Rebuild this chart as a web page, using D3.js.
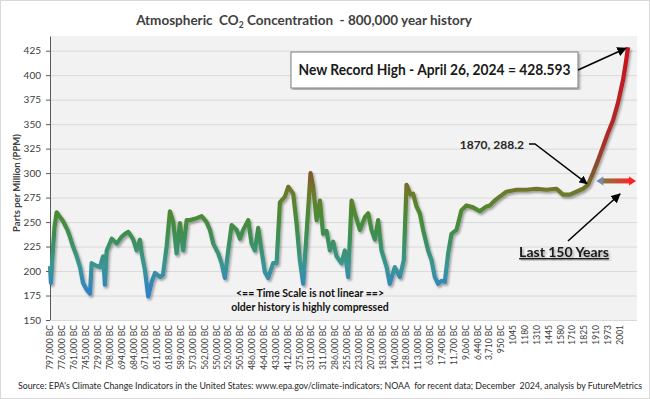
<!DOCTYPE html>
<html>
<head>
<meta charset="utf-8">
<script src="https://cdn.jsdelivr.net/npm/d3@7"></script>
<style>
  body { margin: 0; background: #fff; }
  svg { display: block; font-family: Lato, "Open Sans", sans-serif; }
</style>
</head>
<body>
<svg width="650" height="399"></svg>
<script>
// category labels under the chart (the time scale is not linear)
const yearLabels = ["797,000 BC", "776,000 BC", "761,000 BC", "745,000 BC", "729,000 BC", "708,000 BC",
  "694,000 BC", "684,000 BC", "671,000 BC", "651,000 BC", "618,000 BC", "589,000 BC", "573,000 BC",
  "562,000 BC", "550,000 BC", "526,000 BC", "505,000 BC", "486,000 BC", "464,000 BC", "433,000 BC",
  "412,000 BC", "375,000 BC", "331,000 BC", "311,000 BC", "286,000 BC", "255,000 BC", "233,000 BC",
  "207,000 BC", "183,000 BC", "140,000 BC", "128,000 BC", "113,000 BC", "63,000 BC", "17,400 BC",
  "11,700 BC", "9,060 BC", "6,440 BC", "3,710 BC", "950 BC", "1045", "1180", "1310", "1445", "1580",
  "1710", "1825", "1910", "1973", "2001"];

const yTicks = [150, 175, 200, 225, 250, 275, 300, 325, 350, 375, 400, 425];

// [position along the label axis, ppm]
const co2 = [
  [0, 205], [0.08, 188], [0.21, 215], [0.38, 245], [0.56, 260], [0.84, 255], [1.05, 252], [1.26, 247], [1.47, 242], [1.68, 235],
  [1.94, 225], [2.25, 215], [2.53, 204], [2.78, 188], [3.09, 181], [3.37, 177], [3.51, 208], [3.79, 206], [4.21, 204], [4.47, 215],
  [4.63, 186], [4.78, 221], [5.20, 233], [5.62, 228], [6.04, 235], [6.32, 238], [6.60, 240], [7.02, 232], [7.30, 221], [7.58, 232],
  [7.73, 218], [8.00, 201], [8.28, 174], [8.57, 189], [8.85, 198], [9.27, 194], [9.52, 196], [9.83, 225], [10.11, 261], [10.39, 250],
  [10.67, 218], [10.95, 249], [11.23, 221], [11.52, 252], [11.79, 252], [12.36, 254], [12.78, 256], [13.20, 250], [13.48, 242], [13.76, 228],
  [14.18, 218], [14.46, 208], [14.74, 193], [15.02, 221], [15.31, 247], [15.73, 242], [16.01, 233], [16.28, 242], [16.71, 252], [16.99, 228],
  [17.27, 221], [17.55, 244], [17.83, 221], [18.11, 199], [18.39, 193], [18.81, 208], [19.10, 208], [19.38, 270], [19.80, 276], [20.08, 286],
  [20.50, 279], [20.78, 249], [21.06, 211], [21.34, 187], [21.63, 239], [21.96, 300], [22.18, 286], [22.47, 252], [22.75, 272], [23.02, 238],
  [23.31, 241], [23.59, 221], [23.87, 230], [24.15, 215], [24.57, 208], [24.85, 221], [25.13, 194], [25.42, 272], [25.69, 259], [26.12, 242],
  [26.54, 255], [26.82, 259], [27.10, 242], [27.38, 232], [27.66, 252], [27.94, 221], [28.37, 204], [28.64, 187], [29.06, 204], [29.49, 194],
  [29.82, 211], [30.05, 288], [30.39, 278], [30.61, 279], [30.89, 266], [31.17, 259], [31.45, 242], [31.87, 221], [32.16, 211], [32.43, 194],
  [32.71, 187], [33.00, 190], [33.28, 189], [33.56, 218], [33.84, 238], [34.26, 242], [34.68, 262], [35.10, 267], [35.66, 265], [36.23, 261],
  [36.79, 266], [37.07, 267], [37.49, 272], [37.91, 276], [38.47, 281], [39.32, 283], [40.16, 283], [41.00, 284], [41.84, 283], [42.69, 284],
  [43.24, 278], [43.81, 278], [44.37, 281], [44.93, 284], [45.35, 288.2], [45.77, 300], [46.19, 313], [46.61, 327], [47.03, 341], [47.46, 354],
  [47.88, 372], [48.30, 395], [48.53, 412], [48.72, 428.6]
];

// colour of the curve by concentration
const colourStops = [[175, "#2f80c8"], [205, "#3a9595"], [235, "#3e8f55"], [258, "#4b8a32"], [280, "#6b7b2c"], [298, "#80592a"], [330, "#a8302a"], [420, "#c8141c"]];

const svg = d3.select('svg');
const plot = { left: 50, right: 637, top: 36, bottom: 320 };

const x = d3.scaleLinear().domain([0, 48.72]).range([50, 628]);
const y = d3.scaleLinear().domain([150, 440]).range([plot.bottom, plot.top]);

const defs = svg.append('defs');

const grad = defs.append('linearGradient')
  .attr('id', 'co2grad')
  .attr('gradientUnits', 'userSpaceOnUse')
  .attr('x1', 0).attr('x2', 0)
  .attr('y1', y(colourStops[0][0]))
  .attr('y2', y(colourStops[colourStops.length - 1][0]));
const span = colourStops[colourStops.length - 1][0] - colourStops[0][0];
colourStops.forEach(s => {
  grad.append('stop')
    .attr('offset', (s[0] - colourStops[0][0]) / span)
    .attr('stop-color', s[1]);
});

const arrowGrad = defs.append('linearGradient').attr('id', 'arrowgrad');
arrowGrad.append('stop').attr('offset', 0).attr('stop-color', '#7d7a38');
arrowGrad.append('stop').attr('offset', 1).attr('stop-color', '#ff2626');

defs.append('filter').attr('id', 'shadow')
  .attr('x', '-5%').attr('y', '-5%').attr('width', '110%').attr('height', '110%')
  .append('feDropShadow')
  .attr('dx', 1.5).attr('dy', 2).attr('stdDeviation', 1.2)
  .attr('flood-color', '#000').attr('flood-opacity', 0.35);

defs.append('marker')
  .attr('id', 'head')
  .attr('viewBox', '0 0 10 10')
  .attr('refX', 9).attr('refY', 5)
  .attr('markerWidth', 6).attr('markerHeight', 6)
  .attr('orient', 'auto')
  .append('path')
  .attr('d', 'M0,0L10,5L0,10z')
  .attr('fill', '#000');

// outer frame
svg.append('rect')
  .attr('x', 0.5).attr('y', 0.5).attr('width', 649).attr('height', 398)
  .attr('fill', '#fff').attr('stroke', '#d9d9d9');

// plot background + grid
svg.append('rect')
  .attr('x', plot.left).attr('y', plot.top)
  .attr('width', plot.right - plot.left).attr('height', plot.bottom - plot.top)
  .attr('fill', '#f2f2f2');

svg.append('g')
  .selectAll('line')
  .data(yTicks)
  .join('line')
  .attr('x1', plot.left).attr('x2', plot.right)
  .attr('y1', d => y(d) + 0.5).attr('y2', d => y(d) + 0.5)
  .attr('stroke', '#d9d9d9');

// y axis
const yAxis = svg.append('g')
  .attr('transform', `translate(${plot.left},0)`)
  .call(d3.axisLeft(y).tickValues(yTicks).tickSize(4).tickSizeOuter(0).tickPadding(5));
yAxis.select('.domain').attr('stroke', '#595959');
yAxis.selectAll('.tick line').attr('stroke', '#595959');
yAxis.selectAll('text').attr('fill', '#404040').style('font-size', '10px').style('font-family', 'Lato, sans-serif');

// x axis with rotated category labels
const xAxis = svg.append('g')
  .attr('transform', `translate(0,${plot.bottom})`)
  .call(d3.axisBottom(x).tickValues(d3.range(yearLabels.length)).tickFormat(i => yearLabels[i]).tickSize(0).tickSizeOuter(0));
xAxis.select('.domain').attr('stroke', '#d9d9d9').attr('d', `M${plot.left},0.5H${plot.right}`);
xAxis.selectAll('text')
  .attr('transform', 'rotate(-90)')
  .attr('text-anchor', 'end')
  .attr('x', -5).attr('y', 0).attr('dy', '0.35em')
  .attr('fill', '#404040')
  .style('font-size', '8.5px')
  .style('font-family', 'Lato, sans-serif');

// the CO2 curve
const line = d3.line().x(d => x(d[0])).y(d => y(d[1]));
svg.append('path')
  .datum(co2)
  .attr('d', line)
  .attr('fill', 'none')
  .attr('stroke', 'url(#co2grad)')
  .attr('stroke-width', 4.2)
  .attr('stroke-linejoin', 'round')
  .attr('filter', 'url(#shadow)');

// title
const title = svg.append('text')
  .attr('x', 304).attr('y', 25)
  .attr('text-anchor', 'middle')
  .attr('fill', '#404040')
  .style('font-size', '13.5px').style('font-weight', 700)
  .style('white-space', 'pre');
title.append('tspan').text('Atmospheric  CO');
title.append('tspan').attr('dy', 3).style('font-size', '8.5px').text('2');
title.append('tspan').attr('dy', -3).text(' Concentration  - 800,000 year history');

// y axis title
svg.append('text')
  .attr('transform', 'translate(20,183) rotate(-90)')
  .attr('text-anchor', 'middle')
  .attr('fill', '#404040')
  .style('font-size', '9.5px').style('font-weight', 700)
  .text('Parts per Million (PPM)');

// record high box
svg.append('rect')
  .attr('x', 291).attr('y', 52).attr('width', 287).attr('height', 36)
  .attr('fill', '#fff').attr('stroke', '#7f7f7f')
  .attr('filter', 'url(#shadow)');
svg.append('text')
  .attr('x', 434.5).attr('y', 75)
  .attr('text-anchor', 'middle')
  .attr('fill', '#1a1a1a')
  .attr('textLength', 272)
  .attr('lengthAdjust', 'spacingAndGlyphs')
  .style('font-size', '14.5px').style('font-weight', 700)
  .text('New Record High - April 26, 2024 = 428.593');
const last = co2[co2.length - 1];
svg.append('line')
  .attr('x1', 578).attr('y1', 70)
  .attr('x2', x(last[0]) - 2).attr('y2', y(last[1]) + 1)
  .attr('stroke', '#000').attr('stroke-width', 1.6)
  .attr('marker-end', 'url(#head)');

// 1870 marker
const p1870 = co2.find(d => d[1] === 288.2);
svg.append('text')
  .attr('x', 524).attr('y', 149)
  .attr('text-anchor', 'end')
  .attr('fill', '#262626')
  .style('font-size', '12px').style('font-weight', 700)
  .text('1870, 288.2');
svg.append('path')
  .attr('d', `M529,144H535L${x(p1870[0]) - 1},${y(p1870[1]) - 1}`)
  .attr('fill', 'none')
  .attr('stroke', '#000').attr('stroke-width', 1.4)
  .attr('marker-end', 'url(#head)');

// last 150 years double arrow
const ax0 = x(46.05), ax1 = x(49.4), ay = y(292);
svg.append('path')
  .attr('d', `M${ax0 + 6},${ay - 2.5}H${ax1 - 6}V${ay + 2.5}H${ax0 + 6}Z`)
  .attr('fill', 'url(#arrowgrad)');
svg.append('path')
  .attr('d', `M${ax0},${ay}L${ax0 + 7},${ay - 4.5}V${ay + 4.5}Z`)
  .attr('fill', '#7589a8');
svg.append('path')
  .attr('d', `M${ax1},${ay}L${ax1 - 7},${ay - 4.5}V${ay + 4.5}Z`)
  .attr('fill', '#ff2020');

svg.append('text')
  .attr('x', 564).attr('y', 257)
  .attr('text-anchor', 'middle')
  .attr('fill', '#1a1a1a')
  .style('font-size', '14px').style('font-weight', 700)
  .style('text-decoration', 'underline')
  .attr('filter', 'url(#shadow)')
  .text('Last 150 Years');
svg.append('line')
  .attr('x1', 568).attr('y1', 241)
  .attr('x2', 620).attr('y2', 194)
  .attr('stroke', '#000').attr('stroke-width', 1.6)
  .attr('marker-end', 'url(#head)');

// time scale note
svg.append('text')
  .attr('x', 310).attr('y', 297)
  .attr('text-anchor', 'middle')
  .attr('fill', '#111')
  .style('font-size', '10.5px').style('font-weight', 700)
  .text('<== Time Scale is not linear ==>');
svg.append('text')
  .attr('x', 310).attr('y', 311)
  .attr('text-anchor', 'middle')
  .attr('fill', '#111')
  .style('font-size', '10.5px').style('font-weight', 700)
  .text('older history is highly compressed');

// source line
svg.append('text')
  .attr('x', 18).attr('y', 389)
  .attr('fill', '#262626')
  .attr('textLength', 624)
  .attr('lengthAdjust', 'spacingAndGlyphs')
  .style('font-size', '8.7px')
  .style('white-space', 'pre')
  .text("Source: EPA's Climate Change Indicators in the United States: www.epa.gov/climate-indicators; NOAA  for recent data; December  2024, analysis by FutureMetrics");
</script>
</body>
</html>
